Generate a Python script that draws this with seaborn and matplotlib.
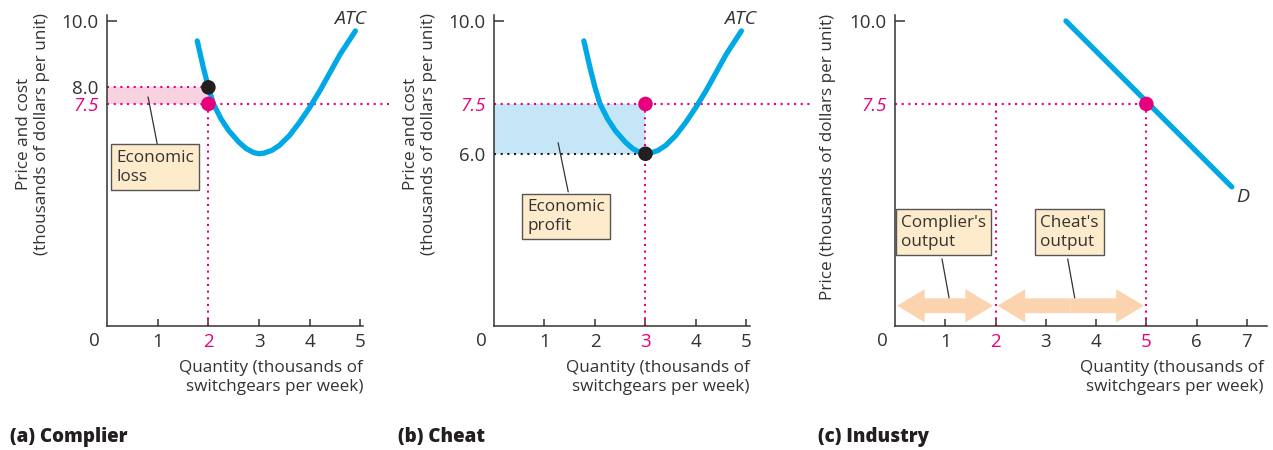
import matplotlib
matplotlib.use('Agg')
import matplotlib.pyplot as plt
import seaborn as sns
from matplotlib.patches import FancyArrow

# ATC curve of one firm (same for complier and cheat)
atc_q = [1.78, 1.9, 2.0, 2.1, 2.25, 2.4, 2.6, 2.75, 2.9, 3.0, 3.1, 3.25, 3.4, 3.6, 3.8, 4.0, 4.2, 4.4, 4.6, 4.9]
atc_cost = [9.4, 8.6, 8.0, 7.5, 7.05, 6.7, 6.35, 6.15, 6.03, 6.0, 6.02, 6.1, 6.25, 6.55, 6.95, 7.4, 7.9, 8.45, 9.0, 9.7]

# industry demand curve
demand_q = [3.4, 6.7]
demand_price = [10.0, 5.0]

price = 7.5
complier_q, complier_atc = 2, 8.0
cheat_q, cheat_atc = 3, 6.0
industry_q = 5

# output ranges shown by the arrows in (c)
output_ranges = [(0, 2), (2, 5)]
output_labels = ["Complier's\noutput", "Cheat's\noutput"]

BLUE = '#00a9e6'
PINK = '#e6007e'
DARK = '#231f20'
LOSS = '#f9d2e2'
PROFIT = '#c4e6f7'
BOX_FC = '#fdebcb'
ARROW = '#fbd3ae'
FONT = 'Open Sans'

sns.set_style('ticks')
plt.rcParams['font.family'] = [FONT, 'DejaVu Sans']
plt.rcParams['axes.edgecolor'] = '#333333'
plt.rcParams['axes.linewidth'] = 1.1

W, H = 1273, 450
fig = plt.figure(figsize=(W / 100, H / 100), dpi=100)

Y_LO, Y_HI = 0.81, 10.18


def add_ax(left, right, top=15, bottom=326):
    return fig.add_axes([left / W, 1 - bottom / H, (right - left) / W, (bottom - top) / H])


def style_axis(ax, xmax, xticks, pink_x, yticks, ylabels, ylabel, ylab_x, ylab_y, xlab_x):
    ax.set_xlim(0, xmax)
    ax.set_ylim(Y_LO, Y_HI)
    sns.despine(ax=ax)
    ax.set_xticks(xticks)
    ax.set_xticklabels([str(t) for t in xticks])
    ax.set_yticks(yticks)
    ax.set_yticklabels(ylabels)
    ax.tick_params(axis='x', direction='in', length=5, width=1.1, pad=5,
                   labelsize=13.5, colors='#333333')
    ax.tick_params(axis='y', direction='in', length=7, width=1.1, pad=6,
                   labelsize=13.5, colors='#333333')
    for t, lab in zip(ax.get_xticks(), ax.get_xticklabels()):
        if t in pink_x:
            lab.set_color(PINK)
    for t, lab, tk in zip(yticks, ax.get_yticklabels(), ax.yaxis.get_major_ticks()):
        if t == price:
            lab.set_color(PINK)
            lab.set_style('italic')
        if t != 10.0:
            tk.tick1line.set_visible(False)
    ax.annotate('0', xy=(0, 0), xycoords='axes fraction', xytext=(-13, -15),
                textcoords='offset pixels', ha='center', va='center',
                fontsize=13.5, color='#333333')
    ax.set_ylabel(ylabel, fontsize=12.3, color='#333333', ha='center', va='center',
                  linespacing=1.2)
    ax.yaxis.set_label_coords(ylab_x, ylab_y)
    ax.set_xlabel('Quantity (thousands of\nswitchgears per week)', fontsize=12.3,
                  color='#333333', ha='right', va='center', multialignment='right',
                  linespacing=1.25)
    ax.xaxis.set_label_coords(xlab_x, -0.167)


def dotted(ax, xs, ys, color=PINK):
    ax.plot(xs, ys, color=color, lw=1.5, ls=(0, (1, 2.2)), clip_on=False, zorder=2)


def note(ax, x, y, text):
    ax.text(x, y, text, ha='center', va='center', multialignment='left',
            fontsize=12.3, color='#333333', linespacing=1.25, zorder=6,
            bbox=dict(boxstyle='square,pad=0.3', fc=BOX_FC, ec='#555555', lw=1))


def leader(ax, x0, y0, x1, y1):
    ax.plot([x0, x1], [y0, y1], color='#333333', lw=0.9, zorder=5)


ax_a = add_ax(107, 363)
ax_b = add_ax(494, 750)
ax_c = add_ax(895, 1267)

# (a) Complier
ax = ax_a
ax.fill_between([0, complier_q], price, complier_atc, color=LOSS, lw=0, zorder=1)
dotted(ax, [0, 5.64], [price, price])
dotted(ax, [0, complier_q], [complier_atc, complier_atc])
dotted(ax, [complier_q, complier_q], [Y_LO, price])
sns.lineplot(x=atc_q, y=atc_cost, ax=ax, color=BLUE, lw=3.8, sort=False,
             estimator=None, zorder=3, solid_joinstyle='round')
sns.scatterplot(x=[complier_q], y=[complier_atc], ax=ax, s=110, color=DARK,
                edgecolor='none', zorder=4)
sns.scatterplot(x=[complier_q], y=[price], ax=ax, s=110, color=PINK,
                edgecolor='none', zorder=4)
ax.text(4.79, 10.05, 'ATC', style='italic', fontsize=14, color='#333333',
        ha='center', va='center')
leader(ax, 0.99, 6.3, 0.81, 7.71)
note(ax, 0.95, 5.6, 'Economic\nloss')
style_axis(ax, 5.05, [1, 2, 3, 4, 5], [complier_q], [price, complier_atc, 10.0],
           ['7.5', '8.0', '10.0'],
           'Price and cost\n(thousands of dollars per unit)', -0.289, 0.617, 1.0)

# (b) Cheat
ax = ax_b
ax.fill_between([0, cheat_q], cheat_atc, price, color=PROFIT, lw=0, zorder=1)
dotted(ax, [0, 6.26], [price, price])
dotted(ax, [0, cheat_q], [cheat_atc, cheat_atc], color=DARK)
dotted(ax, [cheat_q, cheat_q], [Y_LO, price])
sns.lineplot(x=atc_q, y=atc_cost, ax=ax, color=BLUE, lw=3.8, sort=False,
             estimator=None, zorder=3, solid_joinstyle='round')
sns.scatterplot(x=[cheat_q], y=[price], ax=ax, s=110, color=PINK,
                edgecolor='none', zorder=4)
sns.scatterplot(x=[cheat_q], y=[cheat_atc], ax=ax, s=110, color=DARK,
                edgecolor='none', zorder=4)
ax.text(4.87, 10.05, 'ATC', style='italic', fontsize=14, color='#333333',
        ha='center', va='center')
leader(ax, 1.47, 4.85, 1.27, 6.33)
note(ax, 1.43, 4.1, 'Economic\nprofit')
style_axis(ax, 5.07, [1, 2, 3, 4, 5], [cheat_q], [cheat_atc, price, 10.0],
           ['6.0', '7.5', '10.0'],
           'Price and cost\n(thousands of dollars per unit)', -0.289, 0.617, 1.0)

# (c) Industry
ax = ax_c
dotted(ax, [0, industry_q], [price, price])
dotted(ax, [complier_q, complier_q], [Y_LO, price])
dotted(ax, [industry_q, industry_q], [Y_LO, price])
sns.lineplot(x=demand_q, y=demand_price, ax=ax, color=BLUE, lw=3.8, zorder=3)
sns.scatterplot(x=[industry_q], y=[price], ax=ax, s=110, color=PINK,
                edgecolor='none', zorder=4)
ax.text(6.92, 4.7, 'D', style='italic', fontsize=14, color='#333333',
        ha='center', va='center')
arrow_y = 1.42
for (lo, hi), lab in zip(output_ranges, output_labels):
    lo_tip, hi_tip = lo + 0.04, hi - 0.05
    mid = (lo_tip + hi_tip) / 2
    for tip in (lo_tip, hi_tip):
        ax.add_patch(FancyArrow(mid, arrow_y, tip - mid, 0, width=0.45,
                                head_width=1.0, head_length=0.55,
                                length_includes_head=True, color=ARROW,
                                lw=0, zorder=2))
    leader(ax, mid - 0.06, 2.83, mid + 0.08, 1.66)
    note(ax, mid - 0.03, 3.64, lab)
style_axis(ax, 7.4, [1, 2, 3, 4, 5, 6, 7], [complier_q, industry_q], [price, 10.0],
           ['7.5', '10.0'],
           'Price (thousands of dollars per unit)', -0.18, 0.543, 0.99)

for x, title in [(10, '(a) Complier'), (398, '(b) Cheat'), (818, '(c) Industry')]:
    fig.text(x / W, 1 - 437 / H, title, fontsize=13.5, fontweight=800,
             color='#231f20', ha='left', va='center')

fig.savefig('out.png', dpi=100)
